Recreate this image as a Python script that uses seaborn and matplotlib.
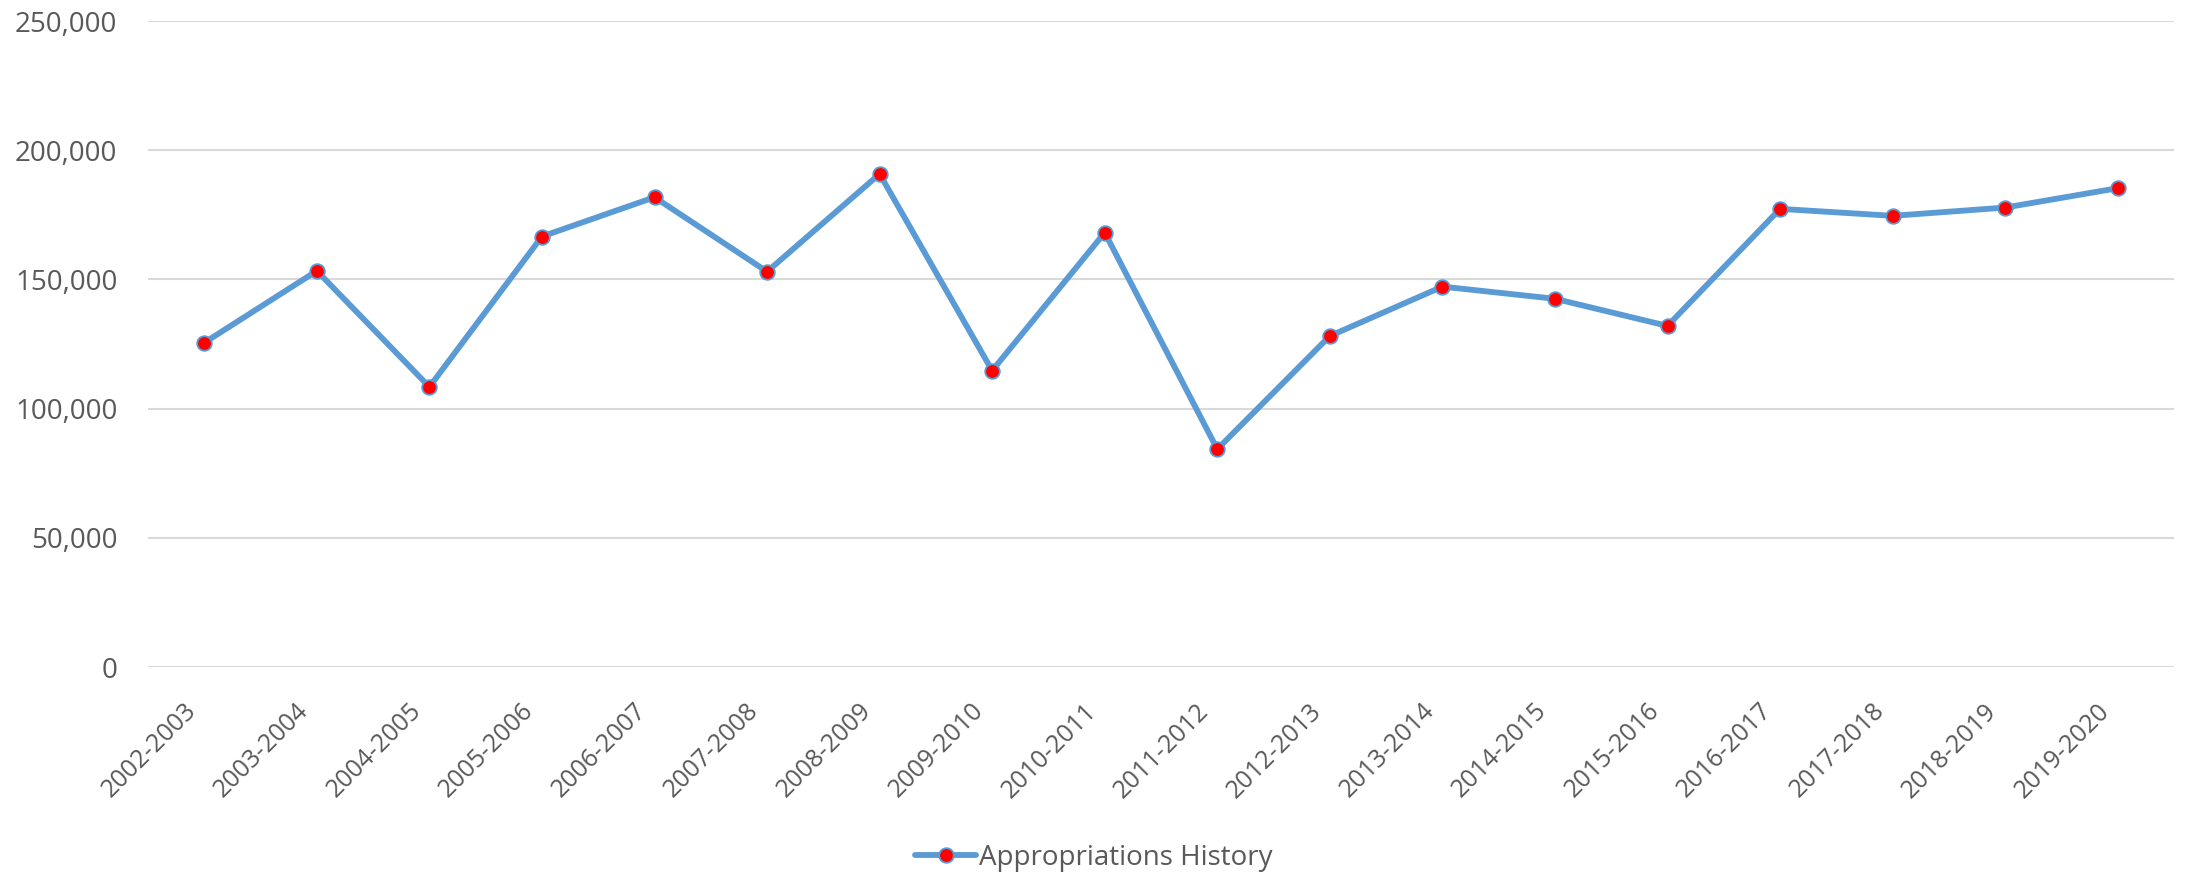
import seaborn as sns
import matplotlib.pyplot as plt
import matplotlib.transforms as mtransforms
from matplotlib.ticker import FuncFormatter
import pandas as pd

# Fiscal years along the x axis
years = ["2002-2003", "2003-2004", "2004-2005", "2005-2006", "2006-2007", "2007-2008",
         "2008-2009", "2009-2010", "2010-2011", "2011-2012", "2012-2013", "2013-2014",
         "2014-2015", "2015-2016", "2016-2017", "2017-2018", "2018-2019", "2019-2020"]

# Appropriations
appropriations = [125500, 153300, 108400, 166600, 181800, 153000,
                  190800, 114700, 168100, 84300, 128100, 147200,
                  142500, 132000, 177300, 174600, 177800, 185300]

y_ticks = [0, 50000, 100000, 150000, 200000, 250000]

series_name = "Appropriations History"

df = pd.DataFrame({"year": years, "value": appropriations})

sns.set_style("white")
plt.rcParams['font.family'] = ['Open Sans', 'DejaVu Sans']

text_color = "#595959"
line_color = "#5B9BD5"

fig = plt.figure(figsize=(21.88, 8.76), dpi=100)
ax = fig.add_axes([148 / 2188, 1 - 667 / 876, (2174 - 148) / 2188, (667 - 21) / 876])

sns.lineplot(data=df, x="year", y="value", ax=ax, sort=False,
             color=line_color, linewidth=4.2, marker="o", markersize=10.5,
             markerfacecolor="red", markeredgecolor=line_color, markeredgewidth=1.3,
             label=series_name)

ax.set_xlim(-0.5, len(years) - 0.5)
ax.set_ylim(0, 250000)
ax.set_yticks(y_ticks)
ax.yaxis.set_major_formatter(FuncFormatter(lambda v, p: f"{int(v):,}"))
ax.grid(axis="y", color="#D9D9D9", linewidth=1.5)
ax.set_axisbelow(True)
for s in ax.spines.values():
    s.set_visible(False)

ax.set_xlabel("")
ax.set_ylabel("")
ax.tick_params(axis="y", length=0, pad=22, labelsize=20, labelcolor=text_color)
ax.tick_params(axis="x", length=0, pad=29, labelsize=18, labelcolor=text_color)

# Excel-style rotated labels: right end sits just left of the tick
shift = mtransforms.ScaledTranslation(-12 / 100, 0, fig.dpi_scale_trans)
for lab in ax.get_xticklabels():
    lab.set_rotation(45)
    lab.set_rotation_mode("anchor")
    lab.set_ha("right")
    lab.set_va("center")
    lab.set_transform(lab.get_transform() + shift)

handles, labels = ax.get_legend_handles_labels()
ax.get_legend().remove()
leg = fig.legend(handles, labels, loc="center", bbox_to_anchor=(0.5, 1 - 858 / 876),
                 frameon=False, fontsize=20, handlelength=2.2, handletextpad=0.1,
                 labelcolor=text_color)

fig.savefig("out.png", dpi=100, facecolor="white")
